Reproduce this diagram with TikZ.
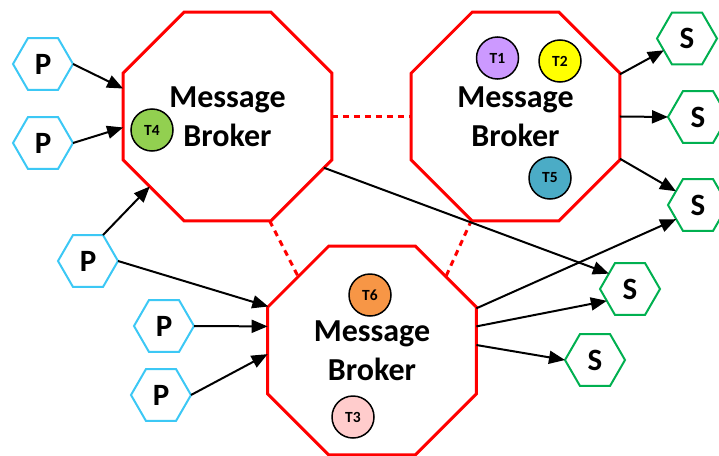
\documentclass[tikz,border=0pt]{standalone}
\usepackage{fontspec}
\setmainfont{Carlito}
\usetikzlibrary{shapes.geometric,arrows.meta}
\definecolor{brokerred}{RGB}{255,0,0}
\definecolor{prodblue}{RGB}{60,200,245}
\definecolor{subgreen}{RGB}{0,176,80}
\definecolor{tpurple}{RGB}{204,153,255}
\definecolor{tyellow}{RGB}{255,255,0}
\definecolor{tpink}{RGB}{255,204,204}
\definecolor{tgreen}{RGB}{146,208,80}
\definecolor{tteal}{RGB}{75,172,198}
\definecolor{torange}{RGB}{247,150,70}
\begin{document}
\begin{tikzpicture}[x=1pt,y=-1pt,
  broker/.style={regular polygon, regular polygon sides=8, minimum size=226pt,
    draw=brokerred, fill=white, line width=3pt, inner sep=0pt, outer sep=0pt,
    align=center, font=\fontsize{32}{39}\selectfont\bfseries},
  prod/.style={regular polygon, regular polygon sides=6, minimum size=60pt,
    draw=prodblue, fill=white, line width=2pt, inner sep=0pt, outer sep=0pt,
    font=\fontsize{31}{32}\selectfont\bfseries},
  sub/.style={prod, draw=subgreen},
  topic/.style={circle, draw=black, line width=1.5pt, minimum size=42pt,
    inner sep=0pt, font=\fontsize{15.5}{16}\selectfont\bfseries},
  link/.style={-{Triangle[length=16pt,width=13pt]}, line width=2pt},
  peer/.style={draw=brokerred, line width=3pt, dash pattern=on 6pt off 5pt}
]
\useasboundingbox (0,0) rectangle (719,455);

% brokers
\node[broker] (b1) at (227.5,116.5) {Message\\Broker};
\node[broker] (b2) at (515.5,116.5) {Message\\Broker};
\node[broker] (b3) at (372,350.5) {Message\\Broker};

% topics
\node[topic, fill=tgreen] (t4) at (152,130) {T4};
\node[topic, fill=tpurple] (t1) at (497.5,58) {T1};
\node[topic, fill=tyellow] (t2) at (560,61) {T2};
\node[topic, fill=tteal] (t5) at (550,178) {T5};
\node[topic, fill=torange] (t6) at (370,295) {T6};
\node[topic, fill=tpink] (t3) at (353,417) {T3};

% producers
\node[prod] (p1) at (43,64) {P};
\node[prod] (p2) at (43,143) {P};
\node[prod] (p3) at (88,261) {P};
\node[prod] (p4) at (164,326) {P};
\node[prod] (p5) at (161,395) {P};

% subscribers
\node[sub] (s1) at (687,38.5) {S};
\node[sub] (s2) at (698,117) {S};
\node[sub] (s3) at (698,205) {S};
\node[sub] (s4) at (630,289) {S};
\node[sub] (s5) at (595,360) {S};

% peer links between brokers
\draw[peer] (b1.east) -- (b2.west);
\draw[peer] (b1.292.5) -- (b3.135);
\draw[peer] (b2.247.5) -- (b3.45);

% producer links
\draw[link] (p1.east) -- (b1.165);
\draw[link] (p2.east) -- (b1.186);
\draw[link] (p3.60) -- (b1.222);
\draw[link] (p3.east) -- (b3.157);
\draw[link] (p4.east) -- (b3.167);
\draw[link] (p5.east) -- (b3.182);

% subscriber links
\draw[link] (b1.332) -- (s4.144);
\draw[link] (b2.22) -- (s1.207);
\draw[link] (b2.east) -- (s2.west);
\draw[link] (b2.338) -- (s3.148);
\draw[link] (b3.22) -- (s3.213);
\draw[link] (b3.13) -- (s4.207);
\draw[link] (b3.3) -- (s5.west);
\end{tikzpicture}
\end{document}
